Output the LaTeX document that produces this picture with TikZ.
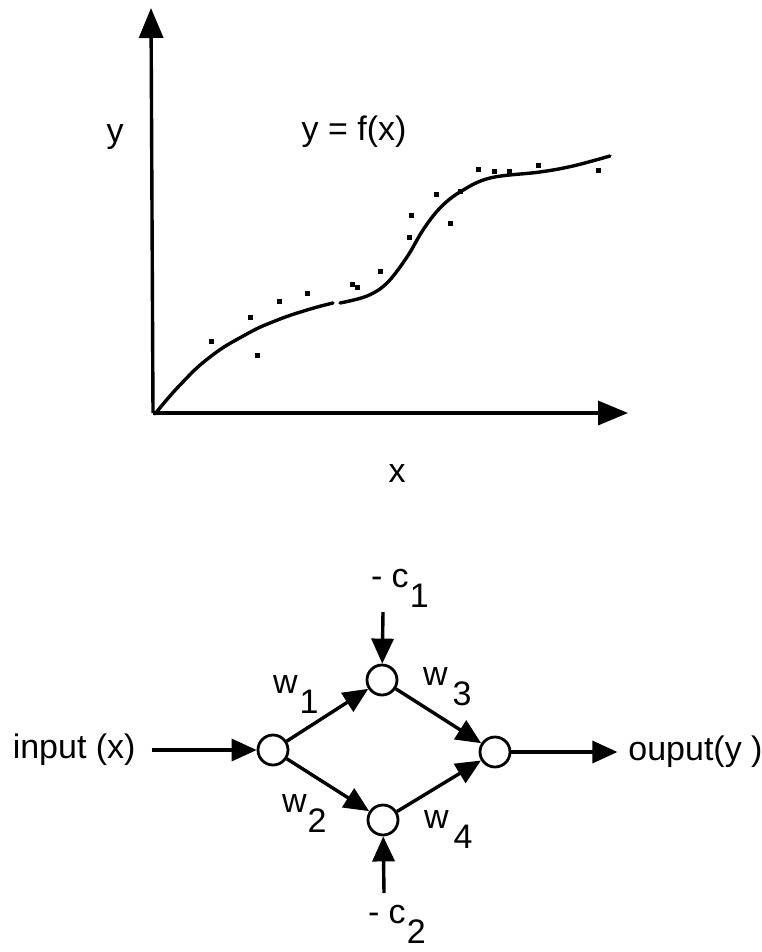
\documentclass[tikz,border=0pt]{standalone}
\usepackage{fontspec}
\setmainfont{Liberation Sans}
\usetikzlibrary{positioning,arrows.meta}

\newcommand{\lowsub}[1]{\raisebox{-.6em}{#1}}

\begin{document}
\begin{tikzpicture}[
  x=1pt, y=-1pt,
  font=\fontsize{34}{40}\selectfont,
  %% Node styles
  unit/.style={
    circle, draw=black, fill=white,
    line width=2.8pt, minimum size=30pt, inner sep=0pt
  },
  lbl/.style={inner sep=0pt, outer sep=0pt},
  datum/.style={rectangle, fill=black, inner sep=0pt, minimum size=5pt},
  %% Arrow styles
  axis/.style={line width=3.4pt, -{Triangle[length=30pt,width=24pt]}},
  link/.style={line width=3.4pt, -{Triangle[length=25pt,width=22pt]}},
  curve/.style={line width=3.4pt, line cap=round},
]
\useasboundingbox (0,0) rectangle (762,952);

%% ── Axes ───────────────────────────────────────────────────────────────────
\coordinate (O) at (153,413);
\coordinate (ytip) at (151,8);
\coordinate (xtip) at (628,413);
\draw[axis] (O) -- (ytip);
\draw[axis] (O) -- (xtip);

\node[lbl, anchor=base] (ylab) at (115,143) {y};
\node[lbl, anchor=base] (flab) at (354,141) {y = f(x)};
\node[lbl, anchor=base] (xlab) at (397,482) {x};

%% ── Fitted curve ───────────────────────────────────────────────────────────
\draw[curve] plot[smooth, tension=0.8] coordinates {
  (155,414) (180,385) (210,357) (245,335) (275,321) (307,310) (333,303)};
\draw[curve] plot[smooth, tension=0.6] coordinates {
  (340,303) (367,296) (387,283) (407,257) (423,230) (440,208)
  (460,192) (490,178) (540,172) (573,166) (610,156)};

%% ── Samples ────────────────────────────────────────────────────────────────
\foreach \px/\py [count=\i] in {211/341, 250/317, 257/355, 279/301,
    307/293, 352/284, 357/287, 380/271, 409/237, 411/215, 436/194,
    450/223, 460/191, 478/170, 494/172, 509/172, 538/166, 598/171}
  \node[datum] (d\i) at (\px,\py) {};

%% ── Network units ──────────────────────────────────────────────────────────
\node[unit] (in)   at (273,750) {};
\node[unit] (hid1) at (382,680) {};
\node[unit] (hid2) at (383,820) {};
\node[unit] (out)  at (495,752) {};

\node[lbl, left=121pt of in]   (inlab)  {input (x)};
\node[lbl, right=117pt of out] (outlab) {ouput(y\ )};

%% bias inputs
\coordinate (c1top) at (383,612);
\coordinate (c2bot) at (384,893);
\node[lbl, anchor=base west] (c1lab) at (371,587) {-\ c\kern1pt\lowsub{1}};
\node[lbl, anchor=base west] (c2lab) at (368,923) {-\ c\kern1pt\lowsub{2}};

%% weights
\node[lbl, anchor=base west] (w1lab) at (273,693) {w\kern2pt\lowsub{1}};
\node[lbl, anchor=base west] (w2lab) at (282,812) {w\kern1pt\lowsub{2}};
\node[lbl, anchor=base west] (w3lab) at (423,685) {w\kern5pt\lowsub{3}};
\node[lbl, anchor=base west] (w4lab) at (424,828) {w\kern5pt\lowsub{4}};

%% ── Connections ────────────────────────────────────────────────────────────
\draw[link, shorten <=16pt] (inlab) -- (in);
\draw[link] (in)   -- (hid1);
\draw[link] (in)   -- (hid2);
\draw[link] (hid1) -- (out);
\draw[link] (hid2) -- (out);
\draw[link, shorten >=11pt] (out) -- (outlab);
\draw[link] (c1top) -- (hid1);
\draw[link] (c2bot) -- (hid2);

\end{tikzpicture}
\end{document}
